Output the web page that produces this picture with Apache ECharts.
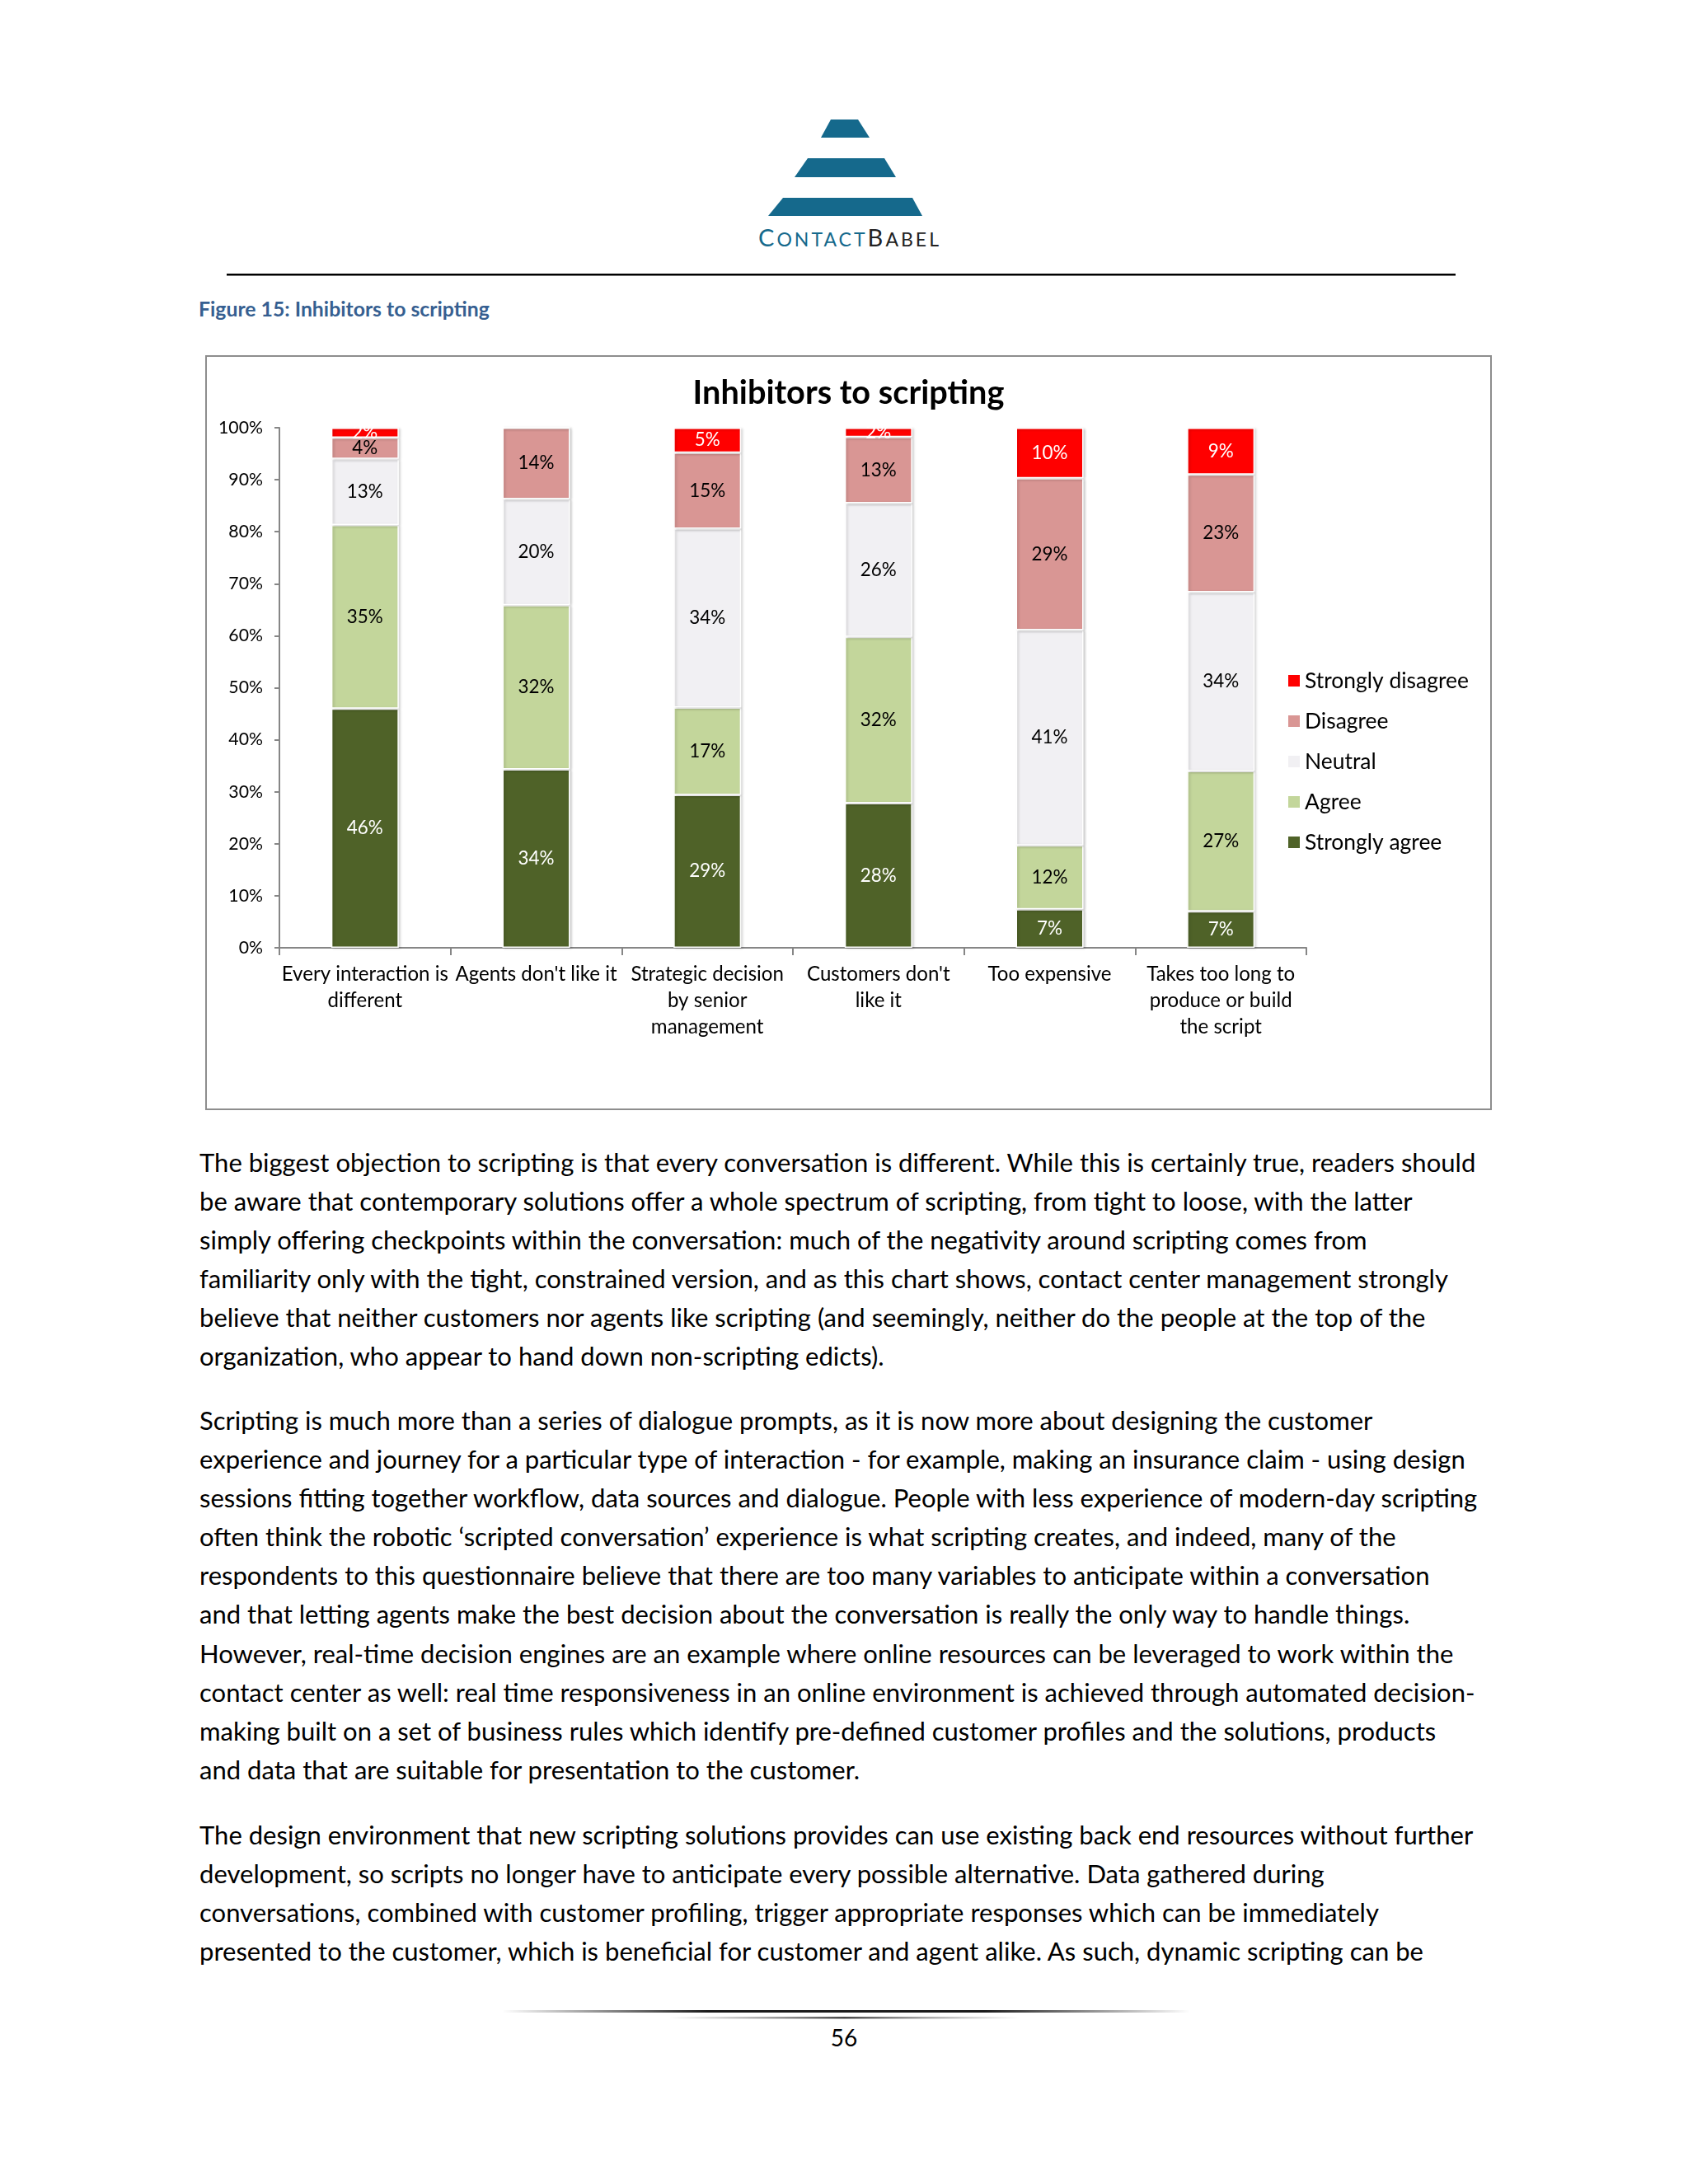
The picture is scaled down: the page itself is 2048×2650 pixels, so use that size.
<!DOCTYPE html>
<html><head><meta charset="utf-8">
<script src="https://cdn.jsdelivr.net/npm/echarts@6/dist/echarts.min.js"></script>
<style>
html,body{margin:0;padding:0;background:#fff;}
body{width:2048px;height:2650px;position:relative;overflow:hidden;font-family:Lato,'Noto Sans',sans-serif;color:#000;}
.abs{position:absolute;}
.para div{white-space:nowrap;}
#logoText{white-space:nowrap;color:#15698c;line-height:32px;}
#logoText .sc{font-size:23px;}
#logoText .big{font-size:29px;}
#logoText .dk{color:#222;}
</style></head>
<body>
<svg class="abs" style="left:0;top:0" width="2048" height="2650">
  <defs>
    <linearGradient id="g1" x1="0" x2="1" y1="0" y2="0">
      <stop offset="0" stop-color="#000" stop-opacity="0"/>
      <stop offset="0.3" stop-color="#000" stop-opacity="0.9"/>
      <stop offset="0.7" stop-color="#000" stop-opacity="0.9"/>
      <stop offset="1" stop-color="#000" stop-opacity="0"/>
    </linearGradient>
    <linearGradient id="g2" x1="0" x2="1" y1="0" y2="0">
      <stop offset="0" stop-color="#666" stop-opacity="0"/>
      <stop offset="0.5" stop-color="#333" stop-opacity="0.9"/>
      <stop offset="1" stop-color="#666" stop-opacity="0"/>
    </linearGradient>
  </defs>
  <polygon points="1008,145 1041,145 1055,167 996,167" fill="#15698c"/>
  <polygon points="980,192 1073,192 1087,215 964,215" fill="#15698c"/>
  <polygon points="950,240 1107,240 1119,262 932,262" fill="#15698c"/>
  <rect x="275" y="332" width="1491" height="2.5" fill="#000"/>
  <rect x="609" y="2439" width="835" height="3" fill="url(#g1)"/>
  <rect x="812" y="2447" width="425" height="2.5" fill="url(#g2)"/>
</svg>
<div id="logoText" class="abs" style="left:920px;top:272px;"><span class="big">C</span><span class="sc">ONTACT</span><span class="big dk">B</span><span class="sc dk">ABEL</span></div>
<div id="caption" class="abs" style="left:241px;top:360px;font-weight:bold;color:#365F91;line-height:30px;">Figure 15: Inhibitors to scripting</div>
<div id="chart" class="abs" style="left:249px;top:431px;width:1561px;height:916px;border:2px solid #8d8d8d;box-sizing:border-box;"></div>

<div class="abs para" id="p1" style="left:242px;top:1387px;line-height:47.1px;">
<div>The biggest objection to scripting is that every conversation is different. While this is certainly true, readers should</div>
<div>be aware that contemporary solutions offer a whole spectrum of scripting, from tight to loose, with the latter</div>
<div>simply offering checkpoints within the conversation: much of the negativity around scripting comes from</div>
<div>familiarity only with the tight, constrained version, and as this chart shows, contact center management strongly</div>
<div>believe that neither customers nor agents like scripting (and seemingly, neither do the people at the top of the</div>
<div>organization, who appear to hand down non-scripting edicts).</div>
</div>
<div class="abs para" id="p2" style="left:242px;top:1700px;line-height:47.1px;">
<div>Scripting is much more than a series of dialogue prompts, as it is now more about designing the customer</div>
<div>experience and journey for a particular type of interaction - for example, making an insurance claim - using design</div>
<div>sessions fitting together workflow, data sources and dialogue. People with less experience of modern-day scripting</div>
<div>often think the robotic ‘scripted conversation’ experience is what scripting creates, and indeed, many of the</div>
<div>respondents to this questionnaire believe that there are too many variables to anticipate within a conversation</div>
<div>and that letting agents make the best decision about the conversation is really the only way to handle things.</div>
<div>However, real-time decision engines are an example where online resources can be leveraged to work within the</div>
<div>contact center as well: real time responsiveness in an online environment is achieved through automated decision-</div>
<div>making built on a set of business rules which identify pre-defined customer profiles and the solutions, products</div>
<div>and data that are suitable for presentation to the customer.</div>
</div>
<div class="abs para" id="p3" style="left:242px;top:2203px;line-height:47.1px;">
<div>The design environment that new scripting solutions provides can use existing back end resources without further</div>
<div>development, so scripts no longer have to anticipate every possible alternative. Data gathered during</div>
<div>conversations, combined with customer profiling, trigger appropriate responses which can be immediately</div>
<div>presented to the customer, which is beneficial for customer and agent alike. As such, dynamic scripting can be</div>
</div>
<div class="abs" id="pagenum" style="left:974px;width:100px;text-align:center;top:2454px;line-height:36px;font-size:28px;">56</div>

<script>
// ---- Data ----
const categories = [
  'Every interaction is\ndifferent',
  "Agents don't like it",
  'Strategic decision\nby senior\nmanagement',
  "Customers don't\nlike it",
  'Too expensive',
  'Takes too long to\nproduce or build\nthe script'
];
const stronglyAgree    = [46.0, 34.3, 29.4, 27.8, 7.4, 7.0];
const agree            = [35.3, 31.6, 16.8, 32.0, 12.3, 27.0];
const neutral          = [12.7, 20.4, 34.4, 25.7, 41.4, 34.4];
const disagree         = [4.1, 13.7, 14.6, 12.7, 29.2, 22.6];
const stronglyDisagree = [1.9, 0, 4.8, 1.8, 9.7, 9.0];
const seriesNames = ['Strongly agree', 'Agree', 'Neutral', 'Disagree', 'Strongly disagree'];
const legendOrder = ['Strongly disagree', 'Disagree', 'Neutral', 'Agree', 'Strongly agree'];

// ---- font fitting helper (Calibri substitute) ----
const mctx = document.createElement('canvas').getContext('2d');
function fit(text, weight, target) {
  mctx.font = weight + ' 100px Lato';
  return 100 * target / mctx.measureText(text).width;
}
const bodySize = fit('The biggest objection to scripting is that every conversation is different. While this is certainly true, readers should', 'normal', 1551);
document.querySelectorAll('.para').forEach(p => p.style.fontSize = bodySize + 'px');
document.getElementById('caption').style.fontSize = fit('Figure 15: Inhibitors to scripting', 'bold', 353) + 'px';

// logo word-mark: spread letters to the reference width
(function () {
  const el = document.getElementById('logoText');
  const w0 = el.getBoundingClientRect().width;
  const extra = (219 - w0) / 11;
  el.style.letterSpacing = Math.max(0, extra) + 'px';
})();

const titleSize = fit('Inhibitors to scripting', 'bold', 378);
const xSize = fit('Too expensive', 'normal', 150);
const legendSize = fit('Strongly disagree', 'normal', 199);
const ySize = fit('100%', 'normal', 54);
const barLabelSize = fit('46%', 'normal', 44);

const colors = {
  'Strongly agree': '#4F6228',
  'Agree': '#C3D69B',
  'Neutral': '#F1F0F3',
  'Disagree': '#D99694',
  'Strongly disagree': '#FF0000'
};
const labelColors = {
  'Strongly agree': '#ffffff',
  'Agree': '#000000',
  'Neutral': '#000000',
  'Disagree': '#000000',
  'Strongly disagree': '#ffffff'
};
const dataByName = {
  'Strongly agree': stronglyAgree,
  'Agree': agree,
  'Neutral': neutral,
  'Disagree': disagree,
  'Strongly disagree': stronglyDisagree
};

const chart = echarts.init(document.getElementById('chart'), null, {renderer: 'canvas'});
const option = {
  animation: false,
  textStyle: {fontFamily: 'Lato'},
  title: {
    text: 'Inhibitors to scripting',
    left: 'center',
    top: 19,
    textStyle: {fontSize: titleSize, fontWeight: 'bold', color: '#000', fontFamily: 'Lato'}
  },
  legend: {
    orient: 'vertical',
    left: 1305,
    top: 375,
    itemWidth: 16,
    itemHeight: 16,
    itemGap: 23,
    icon: 'rect',
    data: legendOrder,
    textStyle: {fontSize: legendSize, color: '#000', lineHeight: 26, fontFamily: 'Lato'}
  },
  grid: {left: 88, top: 86, width: 1246, height: 631},
  xAxis: {
    type: 'category',
    data: categories,
    axisLine: {lineStyle: {color: '#868686', width: 2}},
    axisTick: {show: true, length: 9, lineStyle: {color: '#868686', width: 2}},
    axisLabel: {interval: 0, fontSize: xSize, lineHeight: 32, color: '#000', margin: 16, fontFamily: 'Lato'}
  },
  yAxis: {
    type: 'value',
    min: 0, max: 100, interval: 10,
    axisLine: {show: true, lineStyle: {color: '#868686', width: 2}},
    axisTick: {show: true, length: 6, lineStyle: {color: '#868686', width: 2}},
    splitLine: {show: false},
    axisLabel: {formatter: '{value}%', fontSize: ySize, color: '#000', margin: 20, fontFamily: 'Lato'}
  },
  series: seriesNames.map(name => ({
    name: name,
    type: 'bar',
    stack: 'total',
    barWidth: 82,
    data: dataByName[name],
    itemStyle: {
      color: colors[name],
      borderColor: '#ffffff',
      borderWidth: 1.5,
      shadowColor: 'rgba(0,0,0,0.18)',
      shadowBlur: 3,
      shadowOffsetX: 2,
      shadowOffsetY: 1
    },
    label: {
      show: true,
      position: 'inside',
      fontSize: barLabelSize,
      fontFamily: 'Lato',
      color: labelColors[name],
      formatter: p => (Math.round(p.value) > 0 ? Math.round(p.value) + '%' : '')
    }
  }))
};
chart.setOption(option);
</script>
</body></html>
